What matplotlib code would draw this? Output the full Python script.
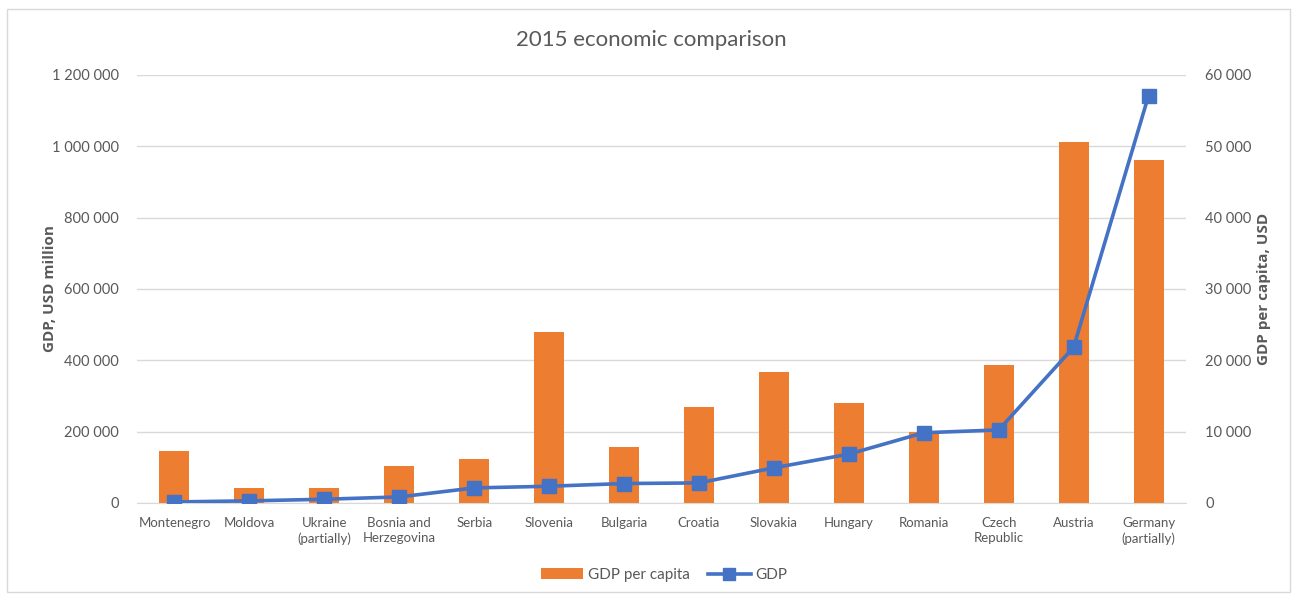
import matplotlib.pyplot as plt
from matplotlib.patches import Rectangle
from matplotlib.ticker import FuncFormatter

plt.rcParams['font.family'] = ['Lato', 'DejaVu Sans']

countries = ['Montenegro', 'Moldova', 'Ukraine\n(partially)', 'Bosnia and\nHerzegovina', 'Serbia',
             'Slovenia', 'Bulgaria', 'Croatia', 'Slovakia', 'Hungary', 'Romania',
             'Czech\nRepublic', 'Austria', 'Germany\n(partially)']
gdp_per_capita = [7300, 2070, 2070, 5170, 6110, 24040, 7840, 13520, 18410, 14000, 9900,
                  19390, 50620, 48130]
gdp = [3000, 6000, 10500, 17000, 42300, 47000, 54600, 56300, 98600, 137000, 197000,
       204800, 436600, 1142000]

orange = '#ED7D31'
blue = '#4472C4'
grey = '#595959'

def spaced(v, pos):
    return f'{int(v):,}'.replace(',', ' ')

fig = plt.figure(figsize=(12.93, 5.94), dpi=100)
fig.patches.append(Rectangle((7 / 1293, 2 / 594), 1283 / 1293, 583 / 594, transform=fig.transFigure,
                             fill=False, edgecolor='#D9D9D9', linewidth=1))
ax = fig.add_axes([137 / 1293, 91 / 594, 1049 / 1293, 428 / 594])
ax2 = ax.twinx()

x = range(len(countries))
ax2.bar(x, gdp_per_capita, width=0.4, color=orange, label='GDP per capita', zorder=2)
ax.plot(x, gdp, color=blue, linewidth=2.6, marker='s', markersize=10, label='GDP', zorder=3)

ax.set_zorder(ax2.get_zorder() + 1)
ax.patch.set_visible(False)

ax.set_xlim(-0.5, len(countries) - 0.5)
ax.set_ylim(0, 1200000)
ax2.set_ylim(0, 60000)
ax.set_yticks(range(0, 1200001, 200000))
ax2.set_yticks(range(0, 60001, 10000))
ax.yaxis.set_major_formatter(FuncFormatter(spaced))
ax2.yaxis.set_major_formatter(FuncFormatter(spaced))
ax2.grid(axis='y', color='#D9D9D9', linewidth=1, zorder=0)
ax2.set_axisbelow(True)

ax.set_xticks(list(x))
ax.set_xticklabels(countries, fontsize=9.5, color=grey, linespacing=1.3)
for a in (ax, ax2):
    for s in a.spines.values():
        s.set_visible(False)
    a.tick_params(length=0, labelsize=10.5, labelcolor=grey)
ax.tick_params(axis='y', pad=13)
ax2.tick_params(axis='y', pad=14)
ax.tick_params(axis='x', pad=10, labelsize=9.5)
ax2.spines['bottom'].set_visible(True)
ax2.spines['bottom'].set_color('#D9D9D9')

label_font = dict(fontsize=11, fontweight='bold', color=grey, family=['Open Sans', 'DejaVu Sans'])
ax.set_ylabel('GDP, USD million', labelpad=-4, **label_font)
ax2.set_ylabel('GDP per capita, USD', labelpad=4, **label_font)
fig.text(651 / 1293, 1 - 40 / 594, '2015 economic comparison', ha='center', va='center',
         fontsize=16, color=grey)

h1, l1 = ax2.get_legend_handles_labels()
h2, l2 = ax.get_legend_handles_labels()
fig.legend(h1 + h2, l1 + l2, loc='center', bbox_to_anchor=(664 / 1293, 1 - 575 / 594), ncol=2,
           frameon=False, fontsize=11, labelcolor=grey, handlelength=2.8, columnspacing=1.2,
           handletextpad=0.3, markerscale=0.8)

fig.savefig('out.png', dpi=100)
